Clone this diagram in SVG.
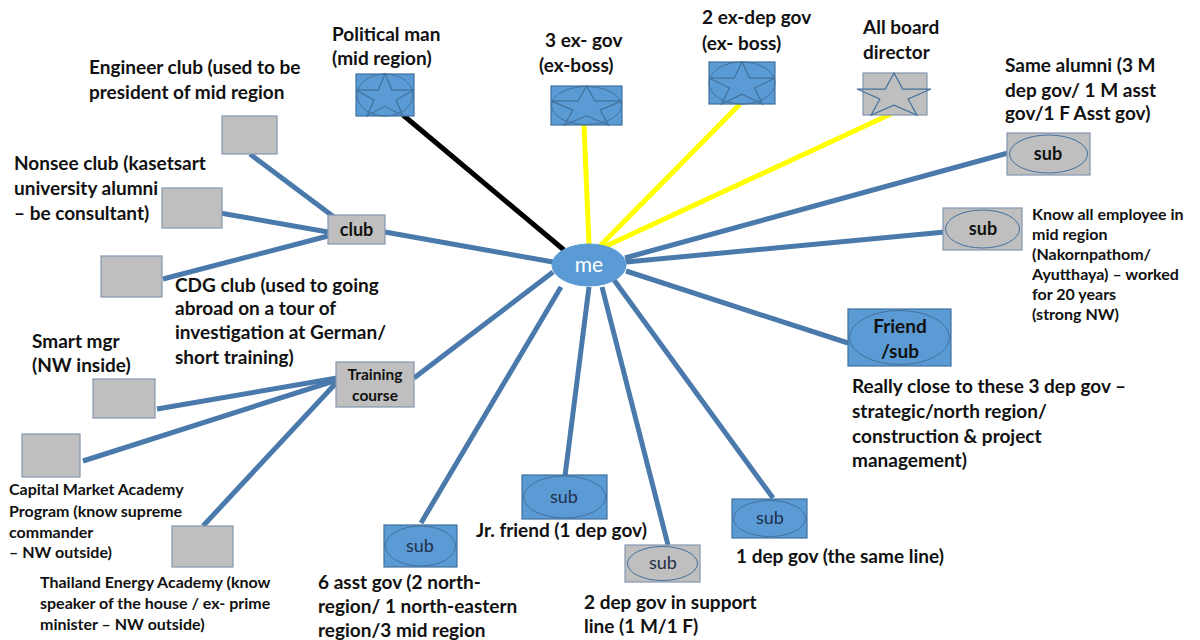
<svg xmlns="http://www.w3.org/2000/svg" xmlns:xlink="http://www.w3.org/1999/xlink" width="1200" height="640" viewBox="0 0 1200 640">
  <style>
    .lbl { font-family: Lato, "Liberation Sans", sans-serif; font-weight: 700; font-size: 19px; fill: #111; }
    .small { font-size: 16px; }
    .blue { fill: #5B9BD5; stroke: #41719C; stroke-width: 1.2; }
    .gray { fill: #BFBFBF; stroke: #8496B0; stroke-width: 1.2; }
    .oval { fill: none; stroke: #41719C; stroke-width: 1; }
    .star { fill: none; stroke: #41719C; stroke-width: 1.2; vector-effect: non-scaling-stroke; }
    .sub { font-family: Lato, "Liberation Sans", sans-serif; font-size: 18px; fill: #1F2F4A; text-anchor: middle; }
    .subb { font-weight: 700; fill: #111; }
    .tag { font-family: Lato, "Liberation Sans", sans-serif; font-weight: 700; fill: #111; text-anchor: middle; }
    .link { stroke: #4A79AB; stroke-width: 5; fill: none; }
    .black { stroke: #000; stroke-width: 5; }
    .yellow { stroke: #FFFF00; stroke-width: 5; }
  </style>
  <defs>
    <!-- five-point star drawn in a 100x100 box, stretched per node -->
    <polygon id="starShape" class="star" points="50,0 61.8,38.2 100,38.2 69.1,61.8 80.9,100 50,76.4 19.1,100 30.9,61.8 0,38.2 38.2,38.2"/>
  </defs>
  <rect width="1200" height="640" fill="#fff"/>

  <!-- connectors -->
  <g id="connectors" stroke-linecap="butt">
    <line class="link" x1="385" y1="232" x2="553" y2="262"/>
    <line class="link" x1="414" y1="378" x2="553" y2="272"/>
    <line class="link" x1="421" y1="523" x2="561" y2="287"/>
    <line class="link" x1="565" y1="476" x2="589" y2="287"/>
    <line class="link" x1="668" y1="545" x2="602" y2="287"/>
    <line class="link" x1="773" y1="498" x2="614" y2="280"/>
    <line class="link" x1="848" y1="343" x2="626" y2="271"/>
    <line class="link" x1="945" y1="232" x2="626" y2="262"/>
    <line class="link" x1="1008" y1="153" x2="625" y2="258"/>
    <line class="black" x1="403" y1="115" x2="564" y2="250"/>
    <line class="yellow" x1="584" y1="125" x2="589" y2="244"/>
    <line class="yellow" x1="740" y1="104" x2="600" y2="246"/>
    <line class="yellow" x1="893" y1="113" x2="604" y2="247"/>
    <line class="link" x1="250" y1="154" x2="334" y2="217"/>
    <line class="link" x1="220" y1="213" x2="328" y2="232"/>
    <line class="link" x1="163" y1="279" x2="328" y2="236"/>
    <line class="link" x1="157" y1="409" x2="337" y2="378"/>
    <line class="link" x1="83" y1="461" x2="337" y2="380"/>
    <line class="link" x1="203" y1="526" x2="337" y2="382"/>
  </g>

  <!-- centre -->
  <g id="me">
    <ellipse cx="589" cy="265" rx="37" ry="21" fill="#5B9BD5" stroke="#5B9BD5"/>
    <text x="589" y="272" font-family="Lato, 'Liberation Sans', sans-serif" font-size="21" fill="#fff" text-anchor="middle">me</text>
  </g>

  <!-- top row -->
  <g id="political-man">
    <rect class="blue" x="356" y="74" width="58" height="42"/>
    <ellipse class="oval" cx="385" cy="95" rx="28" ry="21"/>
    <use xlink:href="#starShape" transform="translate(356 74) scale(0.58 0.42)"/>
    <text class="lbl" x="332" y="41">Political man</text>
    <text class="lbl" x="332" y="65">(mid region)</text>
  </g>

  <g id="ex-gov">
    <rect class="blue" x="551" y="86" width="71" height="39"/>
    <ellipse class="oval" cx="586.5" cy="105.5" rx="35" ry="19"/>
    <use xlink:href="#starShape" transform="translate(551 86) scale(0.71 0.39)"/>
    <text class="lbl" x="545" y="47">3 ex- gov</text>
    <text class="lbl" x="539" y="72">(ex-boss)</text>
  </g>

  <g id="ex-dep-gov">
    <rect class="blue" x="709" y="62" width="66" height="42"/>
    <ellipse class="oval" cx="742" cy="83" rx="33" ry="21"/>
    <use xlink:href="#starShape" transform="translate(709 62) scale(0.66 0.42)"/>
    <text class="lbl" x="702" y="24">2 ex-dep gov</text>
    <text class="lbl" x="702" y="50">(ex- boss)</text>
  </g>

  <g id="board-director">
    <rect class="gray" x="863" y="73" width="64" height="42"/>
    <use xlink:href="#starShape" transform="translate(857 73) scale(0.74 0.42)"/>
    <text class="lbl" x="863" y="34">All board</text>
    <text class="lbl" x="863" y="59">director</text>
  </g>

  <!-- right side -->
  <g id="same-alumni">
    <rect class="gray" x="1007" y="133" width="83" height="42"/>
    <ellipse class="oval" cx="1048.5" cy="154" rx="39" ry="19"/>
    <text class="sub subb" x="1048" y="160">sub</text>
    <text class="lbl" x="1005" y="72">Same alumni (3 M</text>
    <text class="lbl" x="1005" y="97">dep gov/ 1 M asst</text>
    <text class="lbl" x="1005" y="120">gov/1 F Asst gov)</text>
  </g>

  <g id="mid-region-staff">
    <rect class="gray" x="943" y="208" width="79" height="42"/>
    <ellipse class="oval" cx="982.5" cy="229" rx="37" ry="19"/>
    <text class="sub subb" x="983" y="235">sub</text>
    <text class="lbl small" x="1032" y="220">Know all employee in</text>
    <text class="lbl small" x="1032" y="240">mid region</text>
    <text class="lbl small" x="1032" y="260">(Nakornpathom/</text>
    <text class="lbl small" x="1032" y="280">Ayutthaya) – worked</text>
    <text class="lbl small" x="1032" y="300">for 20 years</text>
    <text class="lbl small" x="1032" y="320">(strong NW)</text>
  </g>

  <g id="friend-sub">
    <rect class="blue" x="848" y="309" width="103" height="57"/>
    <ellipse class="oval" cx="899.5" cy="337.5" rx="50" ry="27"/>
    <text class="tag" x="900" y="333" font-size="19">Friend</text>
    <text class="tag" x="900" y="358" font-size="19">/sub</text>
    <text class="lbl" x="852" y="393">Really close to these 3 dep gov –</text>
    <text class="lbl" x="852" y="418">strategic/north region/</text>
    <text class="lbl" x="852" y="443">construction &amp; project</text>
    <text class="lbl" x="852" y="467">management)</text>
  </g>

  <!-- bottom row -->
  <g id="same-line-dep-gov">
    <rect class="blue" x="732" y="499" width="75" height="39"/>
    <ellipse class="oval" cx="769.5" cy="518.5" rx="36" ry="18"/>
    <text class="sub" x="770" y="524">sub</text>
    <text class="lbl" x="736" y="563">1 dep gov (the same line)</text>
  </g>

  <g id="support-line">
    <rect class="gray" x="625" y="545" width="75" height="37"/>
    <ellipse class="oval" cx="662.5" cy="563.5" rx="35" ry="17"/>
    <text class="sub" x="663" y="569">sub</text>
    <text class="lbl" x="584" y="609">2 dep gov in support</text>
    <text class="lbl" x="584" y="633">line (1 M/1 F)</text>
  </g>

  <g id="jr-friend">
    <rect class="blue" x="522" y="475" width="85" height="44"/>
    <ellipse class="oval" cx="564.5" cy="497" rx="41" ry="21"/>
    <text class="sub" x="564" y="503">sub</text>
    <text class="lbl" x="476" y="537">Jr. friend (1 dep gov)</text>
  </g>

  <g id="asst-gov">
    <rect class="blue" x="384" y="525" width="73" height="42"/>
    <ellipse class="oval" cx="420.5" cy="546" rx="35" ry="20"/>
    <text class="sub" x="420" y="552">sub</text>
    <text class="lbl" x="318" y="589">6 asst gov (2 north-</text>
    <text class="lbl" x="318" y="613">region/ 1 north-eastern</text>
    <text class="lbl" x="318" y="637">region/3 mid region</text>
  </g>

  <!-- club cluster -->
  <g id="club">
    <rect class="gray" x="328" y="215" width="57" height="29"/>
    <text class="tag" x="356.5" y="236" font-size="18">club</text>
  </g>

  <g id="engineer-club">
    <rect class="gray" x="222" y="116" width="55" height="38"/>
    <text class="lbl" x="89" y="74">Engineer club (used to be</text>
    <text class="lbl" x="89" y="99">president of mid region</text>
  </g>

  <g id="nonsee-club">
    <rect class="gray" x="162" y="188" width="60" height="40"/>
    <text class="lbl" x="14" y="170">Nonsee club (kasetsart</text>
    <text class="lbl" x="14" y="195">university alumni</text>
    <text class="lbl" x="14" y="220">– be consultant)</text>
  </g>

  <g id="cdg-club">
    <rect class="gray" x="101" y="256" width="61" height="41"/>
    <text class="lbl" x="175" y="292">CDG club (used to going</text>
    <text class="lbl" x="175" y="315">abroad on a tour of</text>
    <text class="lbl" x="175" y="339">investigation at German/</text>
    <text class="lbl" x="175" y="364">short training)</text>
  </g>

  <!-- training cluster -->
  <g id="training-course">
    <rect class="gray" x="336" y="362" width="78" height="45"/>
    <text class="tag" x="375" y="380" font-size="15.5">Training</text>
    <text class="tag" x="375" y="401" font-size="15.5">course</text>
  </g>

  <g id="smart-mgr">
    <rect class="gray" x="93" y="379" width="62" height="39"/>
    <text class="lbl" x="32" y="348">Smart mgr</text>
    <text class="lbl" x="32" y="372">(NW inside)</text>
  </g>

  <g id="capital-market">
    <rect class="gray" x="22" y="434" width="58" height="43"/>
    <text class="lbl small" x="9" y="495">Capital Market Academy</text>
    <text class="lbl small" x="9" y="517">Program (know supreme</text>
    <text class="lbl small" x="9" y="538">commander</text>
    <text class="lbl small" x="9" y="558">– NW outside)</text>
  </g>

  <g id="energy-academy">
    <rect class="gray" x="172" y="526" width="61" height="41"/>
    <text class="lbl small" x="40" y="588">Thailand Energy Academy (know</text>
    <text class="lbl small" x="40" y="609">speaker of the house / ex- prime</text>
    <text class="lbl small" x="40" y="630">minister – NW outside)</text>
  </g>
</svg>
